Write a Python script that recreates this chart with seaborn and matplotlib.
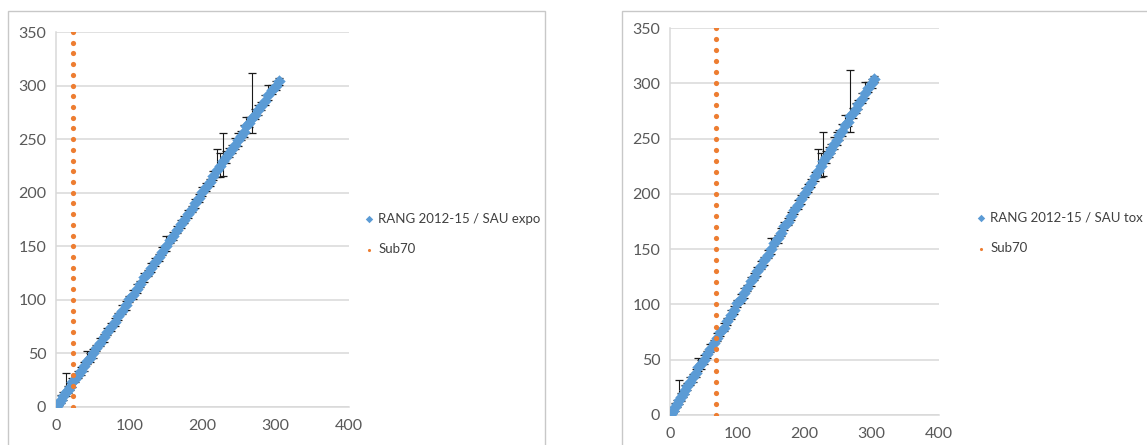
import numpy as np
import pandas as pd
import matplotlib
matplotlib.use("Agg")
import matplotlib.pyplot as plt
from matplotlib.patches import Rectangle
import seaborn as sns

# RANG 2012-15 vs SAU (same cloud on both panels)
rang_x = [1, 4, 7, 10, 13, 16, 19, 22, 26, 30, 34, 38, 42, 46, 50, 55, 60, 65,
          70, 75, 80, 85, 90, 95, 100, 105, 110, 115, 120, 125, 130, 135, 140,
          145, 150, 155, 160, 165, 170, 175, 180, 185, 190, 195, 200, 205, 210,
          215, 220, 224, 228, 232, 236, 240, 244, 248, 252, 256, 260, 264, 268,
          272, 276, 280, 285, 290, 295, 300, 304]
rang_y = [1, 4, 7, 10, 14, 16, 19, 23, 26, 30, 34, 38, 43, 46, 50, 55, 60, 65,
          70, 75, 79, 85, 90, 95, 101, 105, 110, 115, 121, 125, 130, 135, 140,
          145, 150, 156, 160, 165, 171, 175, 180, 185, 190, 195, 201, 205, 210,
          216, 221, 225, 230, 233, 237, 241, 245, 249, 253, 257, 262, 265, 270,
          273, 277, 281, 286, 291, 296, 300, 304]
err_lo = [1, 2, 3, 3, 4, 3, 3, 4, 3, 3, 4, 4, 3, 4, 4, 3, 3, 4,
          3, 4, 3, 4, 3, 4, 3, 4, 4, 3, 4, 3, 4, 3, 4,
          3, 4, 3, 4, 3, 4, 3, 4, 3, 4, 4, 4, 3, 4,
          4, 6, 10, 14, 5, 4, 4, 4, 5, 4, 5, 6, 4, 14,
          4, 4, 4, 4, 4, 4, 4, 3]
err_hi = [1, 3, 4, 4, 18, 4, 3, 4, 3, 4, 3, 4, 9, 4, 4, 3, 4, 3,
          4, 3, 4, 3, 5, 4, 3, 4, 5, 3, 4, 3, 4, 4, 3,
          4, 10, 4, 3, 4, 4, 3, 4, 3, 4, 4, 4, 4, 3,
          4, 20, 12, 26, 6, 5, 4, 6, 7, 5, 6, 9, 6, 42,
          5, 5, 4, 5, 10, 5, 4, 3]

sub70_y = [0, 10, 20, 30, 40, 50, 60, 70, 80, 90, 100, 110, 120, 130, 140, 150,
           160, 170, 180, 190, 200, 210, 220, 230, 240, 250, 260, 270, 280, 290,
           300, 310, 320, 330, 340, 350]
sub70_x = {"expo": 23, "tox": 68}

labels = {"expo": "RANG 2012-15 / SAU expo", "tox": "RANG 2012-15 / SAU tox"}
ticks_x = [0, 100, 200, 300, 400]
ticks_y = [0, 50, 100, 150, 200, 250, 300, 350]

blue = "#5B9BD5"
orange = "#ED7D31"
grey_txt = "#595959"

sns.set_style("white")
plt.rcParams["font.family"] = ["Lato", "DejaVu Sans"]

fig = plt.figure(figsize=(11.47, 4.45), dpi=100)
W, H = 1147, 445

# outer chart frames
for x0, x1 in [(8, 545), (622, 1160)]:
    fig.add_artist(Rectangle((x0 / W, -0.05), (x1 - x0) / W, 1.05 - 11 / H,
                             transform=fig.transFigure, fill=False,
                             ec="#c8c8c8", lw=1))

panels = [
    ("expo", [56 / W, (445 - 407) / H, 293 / W, 375 / H], (360 / W, 1 - 234 / H)),
    ("tox", [670 / W, (445 - 415) / H, 269 / W, 387 / H], (972 / W, 1 - 233 / H)),
]

rang = pd.DataFrame({"x": rang_x, "y": rang_y})

for key, rect, leg_pos in panels:
    ax = fig.add_axes(rect)
    ax.errorbar(rang["x"], rang["y"], yerr=[err_lo, err_hi], fmt="none",
                ecolor="#1a1a1a", elinewidth=0.8, capsize=3, capthick=0.9,
                zorder=2)
    sns.scatterplot(data=rang, x="x", y="y", marker="D", s=40, color=blue,
                    edgecolor=blue, linewidth=0, ax=ax, zorder=3,
                    label=labels[key])
    sub = pd.DataFrame({"x": [sub70_x[key]] * len(sub70_y), "y": sub70_y})
    sns.scatterplot(data=sub, x="x", y="y", marker="o", s=14, color=orange,
                    edgecolor=orange, linewidth=0, ax=ax, zorder=4,
                    label="Sub70")

    ax.set_xlim(0, 400)
    ax.set_ylim(0, 350)
    ax.set_xticks(ticks_x)
    ax.set_yticks(ticks_y)
    ax.set_xlabel("")
    ax.set_ylabel("")
    ax.yaxis.grid(True, color="#d9d9d9", lw=1.1)
    ax.set_axisbelow(True)
    for s in ["top", "right"]:
        ax.spines[s].set_visible(False)
    for s in ["left", "bottom"]:
        ax.spines[s].set_color("#d9d9d9")
        ax.spines[s].set_linewidth(1.1)
    ax.tick_params(axis="both", labelsize=11.5, labelcolor=grey_txt,
                   color="#d9d9d9", length=4, width=1.1, direction="out")
    ax.tick_params(axis="x", pad=5)
    ax.tick_params(axis="y", pad=3)

    ax.legend(loc="center left", bbox_to_anchor=leg_pos,
              bbox_transform=fig.transFigure, frameon=False, fontsize=9.5,
              handlelength=0.5, handletextpad=0.5, labelspacing=1.4,
              borderaxespad=0, labelcolor="#404040", markerscale=0.6)

fig.savefig("out.png", dpi=100)
